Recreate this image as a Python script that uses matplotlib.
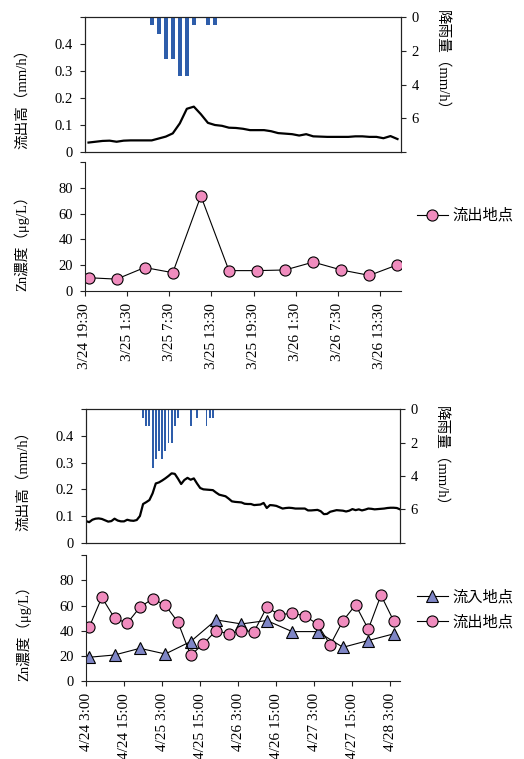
"""
Zn濃度と流出高・降雨量の時系列 (2イベント)
"""
import matplotlib
matplotlib.use("Agg")
import matplotlib.pyplot as plt
import matplotlib.dates as mdates
import numpy as np
import pandas as pd

# ── フォント ──
plt.rcParams["font.family"] = ["Liberation Serif", "Noto Sans CJK JP"]
plt.rcParams["font.size"] = 10.5

# ══════════════════════════════════════════════════════════════
#  データ
# ══════════════════════════════════════════════════════════════
# イベント1 (3/24–3/26)
flow1_start = "2000-03-24 20:00"          # 1時間ごと
flow1 = [0.035, 0.038, 0.041, 0.042, 0.038, 0.042, 0.043, 0.043, 0.043, 0.043,
         0.050, 0.057, 0.069, 0.106, 0.160, 0.168, 0.140, 0.108, 0.100, 0.097,
         0.090, 0.089, 0.086, 0.081, 0.081, 0.081, 0.077, 0.070, 0.068, 0.066,
         0.061, 0.066, 0.058, 0.057, 0.056, 0.056, 0.056, 0.056, 0.058, 0.058,
         0.056, 0.056, 0.051, 0.059, 0.048]
rain1_start = "2000-03-25 05:00"          # 1時間ごと
rain1 = [0.5, 1.0, 2.5, 2.5, 3.5, 3.5, 0.5, 0.0, 0.5, 0.5]
zn1_start = "2000-03-24 20:00"            # 4時間ごと
zn1_out = [10.3, 9.2, 18.2, 14.2, 73.7, 15.8, 15.8, 16.3, 22.4, 16.3, 12.1, 20.3]
ticks1 = ["3/24 19:30", "3/25 1:30", "3/25 7:30", "3/25 13:30",
          "3/25 19:30", "3/26 1:30", "3/26 7:30", "3/26 13:30"]
xlim1 = ("2000-03-24 19:30", "2000-03-26 16:30")

# イベント2 (4/24–4/28)
flow2_start = "2000-04-24 03:00"          # 1時間ごと
flow2 = [0.081, 0.077, 0.086, 0.090, 0.091, 0.089, 0.084, 0.079, 0.081, 0.090,
         0.083, 0.080, 0.080, 0.086, 0.083, 0.082, 0.085, 0.100, 0.145, 0.152,
         0.160, 0.185, 0.222, 0.226, 0.233, 0.241, 0.250, 0.260, 0.258, 0.240,
         0.220, 0.235, 0.243, 0.236, 0.241, 0.222, 0.205, 0.200, 0.199, 0.198,
         0.197, 0.188, 0.180, 0.177, 0.174, 0.165, 0.155, 0.153, 0.152, 0.151,
         0.146, 0.145, 0.145, 0.141, 0.142, 0.143, 0.149, 0.130, 0.141, 0.140,
         0.138, 0.133, 0.128, 0.130, 0.131, 0.130, 0.128, 0.128, 0.128, 0.128,
         0.121, 0.121, 0.122, 0.123, 0.118, 0.107, 0.108, 0.116, 0.119, 0.122,
         0.121, 0.120, 0.117, 0.120, 0.126, 0.122, 0.125, 0.121, 0.124, 0.128,
         0.127, 0.125, 0.126, 0.127, 0.128, 0.130, 0.131, 0.131, 0.130, 0.125]
rain2_start = "2000-04-24 21:00"          # 1時間ごと
rain2 = [0.5, 1.0, 1.0, 3.5, 3.0, 2.5, 3.0, 2.5, 2.0, 2.0, 1.0, 0.5,
         0.0, 0.0, 0.0, 1.0, 0.0, 0.5, 0.0, 0.0, 1.0, 0.5, 0.5]
zn2_start = "2000-04-24 04:00"
zn2_in = [18.9, 20.7, 26.0, 21.5, 31.4, 48.6, 45.4, 48.1, 39.3, 39.3,
          26.8, 32.2, 37.5]                                   # 8時間ごと
zn2_out = [42.8, 66.5, 50.0, 46.0, 58.7, 65.4, 60.3, 46.8, 20.5, 29.5,
           40.1, 37.5, 40.1, 39.3, 58.7, 52.6, 54.0, 51.8, 45.2, 28.7,
           47.8, 60.6, 41.2, 68.3, 47.8]                       # 4時間ごと
ticks2 = ["4/24 3:00", "4/24 15:00", "4/25 3:00", "4/25 15:00", "4/26 3:00",
          "4/26 15:00", "4/27 3:00", "4/27 15:00", "4/28 3:00"]
xlim2 = ("2000-04-24 03:00", "2000-04-28 06:00")

# ── 配色 ──
BAR = "#2E5DAA"
PINK = "#F08CBE"
TRI = "#7F86C6"


def times(start, n, hours):
    return mdates.date2num(pd.date_range(start, periods=n, freq=f"{hours}h").to_pydatetime())


def d2n(s):
    return mdates.date2num(pd.Timestamp(s).to_pydatetime())


def style_ax(ax):
    for s in ax.spines.values():
        s.set_linewidth(0.8)
        s.set_color("#222222")
    ax.tick_params(direction="out", length=3.6, width=0.8, colors="#222222",
                   labelcolor="black")


fig = plt.figure(figsize=(5.24, 7.59), dpi=100)
fig.patch.set_facecolor("white")

W, H = 524.0, 759.0


def add_ax(left, top, right, bottom):
    return fig.add_axes([left / W, 1 - bottom / H, (right - left) / W, (bottom - top) / H])


def flow_panel(ax, t, flow, train, rain, xlim, ycoord, rcoord):
    style_ax(ax)
    ax.plot(t, flow, color="black", lw=1.6)
    ax.set_xlim(d2n(xlim[0]), d2n(xlim[1]))
    ax.set_ylim(0, 0.5)
    ax.set_yticks([0, 0.1, 0.2, 0.3, 0.4, 0.5])
    ax.set_yticklabels(["0", "0.1", "0.2", "0.3", "0.4", ""])
    ax.tick_params(axis="y", pad=5)
    ax.tick_params(axis="x", bottom=False, labelbottom=False)
    ax.set_ylabel("流出高（mm/h）", va="center")
    ax.yaxis.set_label_coords(-0.2, ycoord)

    ax2 = ax.twinx()
    style_ax(ax2)
    ax2.bar(train, rain, width=0.6 / 24, color=BAR, align="center")
    ax2.set_ylim(8, 0)
    ax2.set_yticks([0, 2, 4, 6, 8])
    ax2.set_yticklabels(["0", "2", "4", "6", ""])
    ax2.tick_params(axis="y", pad=4)
    ax2.set_ylabel("降雨量（mm/h）", rotation=270, va="center")
    ax2.yaxis.set_label_coords(1.128, rcoord)
    ax2.set_xlim(ax.get_xlim())


def zn_panel(ax, xlim, ticks, year, ycoord):
    style_ax(ax)
    ax.spines["top"].set_visible(False)
    ax.spines["right"].set_visible(False)
    ax.set_xlim(d2n(xlim[0]), d2n(xlim[1]))
    ax.set_ylim(0, 100)
    ax.set_yticks([0, 20, 40, 60, 80, 100])
    ax.set_yticklabels(["0", "20", "40", "60", "80", ""])
    ax.tick_params(axis="y", pad=5)
    ax.set_xticks([d2n(f"{year}/{s}") for s in ticks])
    ax.set_xticklabels(ticks, rotation=90, fontsize=11)
    ax.tick_params(axis="x", pad=5)
    ax.set_ylabel("Zn濃度（μg/L）", va="center")
    ax.yaxis.set_label_coords(-0.2, ycoord)


# ══════════════════════════════════════════════════════════════
#  イベント1
# ══════════════════════════════════════════════════════════════
axA = add_ax(85, 17, 401, 152)
flow_panel(axA, times(flow1_start, len(flow1), 1), flow1,
           times(rain1_start, len(rain1), 1), rain1, xlim1, 0.42, 0.652)

axB = add_ax(85, 162, 401, 291)
zn_panel(axB, xlim1, ticks1, 2000, 0.40)
axB.plot(times(zn1_start, len(zn1_out), 4), zn1_out, color="black", lw=0.8,
         marker="o", ms=8, mfc=PINK, mec="black", mew=0.8, label="流出地点")
axB.legend(loc="center left", bbox_to_anchor=(417 / W, 1 - 215.7 / H),
           bbox_transform=fig.transFigure, frameon=False, fontsize=11,
           handlelength=2.0, handletextpad=0.35, borderpad=0, borderaxespad=0)

# ══════════════════════════════════════════════════════════════
#  イベント2
# ══════════════════════════════════════════════════════════════
axC = add_ax(86, 409.3, 400, 542.7)
flow_panel(axC, times(flow2_start, len(flow2), 1), flow2,
           times(rain2_start, len(rain2), 1), rain2, xlim2, 0.49, 0.62)

axD = add_ax(86, 555.3, 400, 681)
zn_panel(axD, xlim2, ticks2, 2000, 0.41)
axD.plot(times(zn2_start, len(zn2_in), 8), zn2_in, color="black", lw=0.8,
         marker="^", ms=9, mfc=TRI, mec="black", mew=0.8, label="流入地点")
axD.plot(times(zn2_start, len(zn2_out), 4), zn2_out, color="black", lw=0.8,
         marker="o", ms=8, mfc=PINK, mec="black", mew=0.8, label="流出地点")
axD.legend(loc="center left", bbox_to_anchor=(417 / W, 1 - 610 / H),
           bbox_transform=fig.transFigure, frameon=False, fontsize=11,
           handlelength=2.0, handletextpad=0.35, borderpad=0, borderaxespad=0,
           labelspacing=0.68)

fig.savefig("out.png", dpi=100, facecolor="white")
